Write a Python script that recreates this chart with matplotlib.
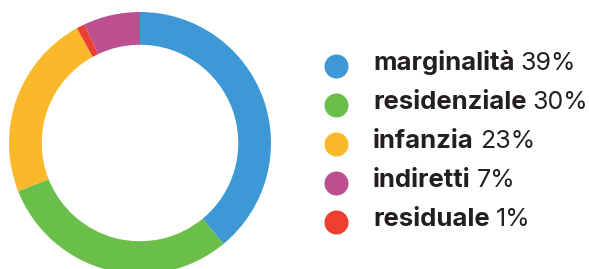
import matplotlib
matplotlib.use("Agg")
import matplotlib.pyplot as plt

# data
labels = ["marginalità", "residenziale", "infanzia", "indiretti", "residuale"]
values = [39, 30, 23, 7, 1]
colors = ["#3d98d5", "#6abf4b", "#f9b92a", "#bc4f8e", "#ec3f2f"]

# ring order (clockwise from top): marginalità, residenziale, infanzia, residuale, indiretti
ring_order = [0, 1, 2, 4, 3]

W, H = 589, 269
fig = plt.figure(figsize=(W / 100, H / 100), dpi=100)
fig.patch.set_facecolor("white")

# donut axes, centre (140, 143) px from top-left, radius 131 px
cx, cy, r = 140, 143, 131
ax = fig.add_axes([(cx - r) / W, (H - cy - r) / H, 2 * r / W, 2 * r / H])
ax.pie([values[i] for i in ring_order],
       colors=[colors[i] for i in ring_order],
       startangle=90, counterclock=False, radius=1,
       wedgeprops=dict(width=0.25, linewidth=0))
ax.set_xlim(-1, 1)
ax.set_ylim(-1, 1)
ax.set_aspect("equal")
ax.axis("off")

# legend
lax = fig.add_axes([0, 0, 1, 1])
lax.set_xlim(0, W)
lax.set_ylim(H, 0)
lax.axis("off")

y0, dy = 65.5, 39
for i, (lab, val, col) in enumerate(zip(labels, values, colors)):
    y = y0 + i * dy
    lax.scatter([336], [y], s=(24 * 0.72) ** 2, color=col, linewidths=0)
    t = lax.text(373, y + 4.5, lab, fontsize=18.5, fontweight="bold", family="Inter",
                 color="#231f20", va="baseline", ha="left")
    lax.annotate(f"{val}%", xy=(1, 0), xycoords=t, xytext=(4.5, 0),
                 textcoords="offset points", fontsize=18,
                 family="Inter", color="#231f20", va="bottom", ha="left")

fig.savefig("out.png", dpi=100, facecolor="white")
